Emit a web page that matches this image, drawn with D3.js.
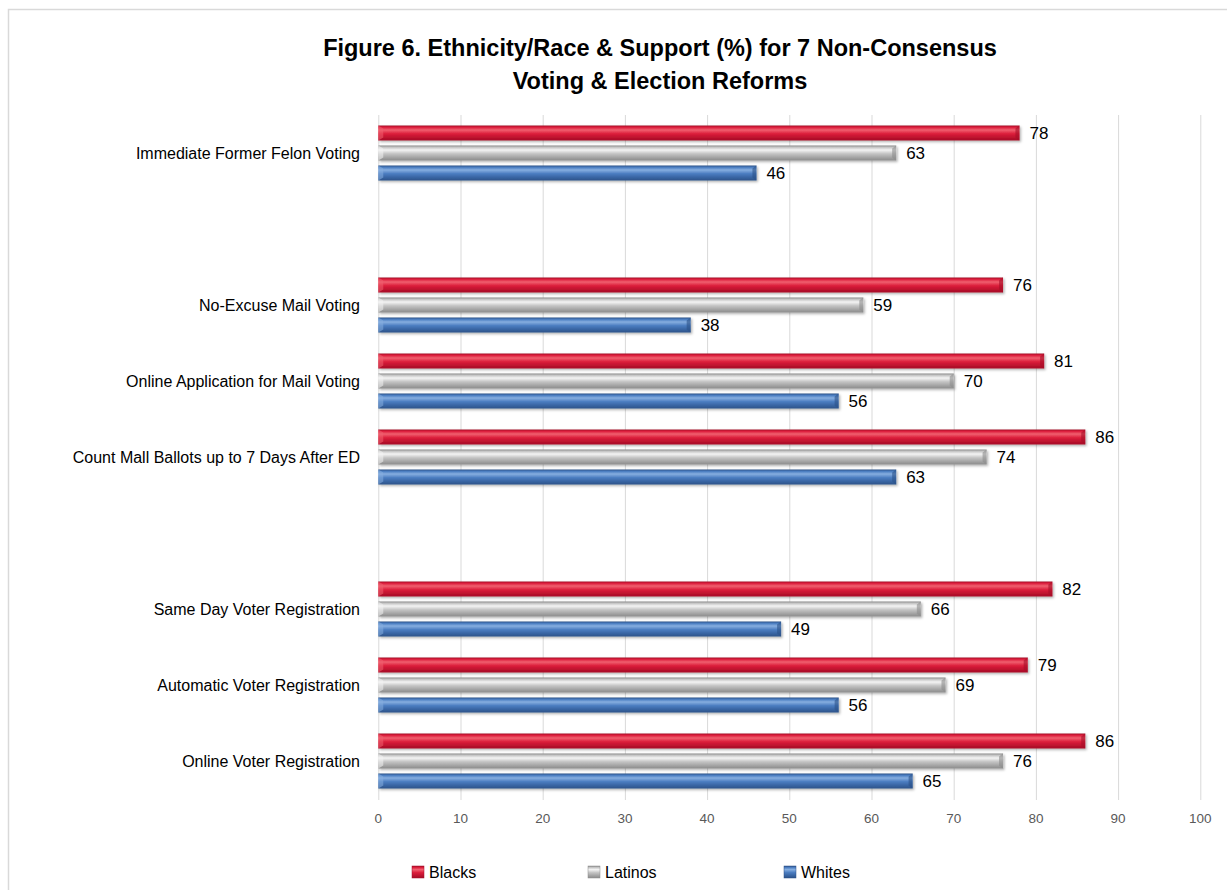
<!DOCTYPE html>
<html>
<head>
<meta charset="utf-8">
<script src="https://cdn.jsdelivr.net/npm/d3@7"></script>
<style>
  html, body { margin: 0; padding: 0; background: #fff; }
  svg { display: block; }
  text { font-family: "Liberation Sans", Arial, sans-serif; }
</style>
</head>
<body>
<svg id="chart" width="1227" height="890"></svg>
<script>
// Reform categories, top to bottom; empty strings are spacer rows between groups
const categories = [
  "Immediate Former Felon Voting",
  "",
  "No-Excuse Mail Voting",
  "Online Application for Mail Voting",
  "Count Mall Ballots up to 7 Days After ED",
  "",
  "Same Day Voter Registration",
  "Automatic Voter Registration",
  "Online Voter Registration"
];
const seriesNames = ["Blacks", "Latinos", "Whites"];
const blacks  = [78, null, 76, 81, 86, null, 82, 79, 86];
const latinos = [63, null, 59, 70, 74, null, 66, 69, 76];
const whites  = [46, null, 38, 56, 63, null, 49, 56, 65];
const xTicks = [0, 10, 20, 30, 40, 50, 60, 70, 80, 90, 100];

const seriesValues = [blacks, latinos, whites];

const svg = d3.select("#chart");
const W = 1227, H = 890;

svg.append("rect").attr("width", W).attr("height", H).attr("fill", "#fff");
svg.append("rect")
  .attr("x", 8.5).attr("y", 9.5).attr("width", W + 10).attr("height", H + 10)
  .attr("fill", "none").attr("stroke", "#d9d9d9").attr("stroke-width", 1.5);

// gradients for the bevelled bar look
const defs = svg.append("defs");
const palettes = {
  Blacks:  { edge: "#a50f28", hi: "#f0606f", mid: "#dc1d3b", low: "#b3102b" },
  Latinos: { edge: "#8c8c8c", hi: "#f4f4f4", mid: "#c4c4c4", low: "#9a9a9a" },
  Whites:  { edge: "#2c5288", hi: "#86aee0", mid: "#4a7cc0", low: "#335d98" }
};
seriesNames.forEach((s, i) => {
  const p = palettes[s];
  const g = defs.append("linearGradient").attr("id", "grad" + i)
    .attr("x1", 0).attr("y1", 0).attr("x2", 0).attr("y2", 1);
  g.append("stop").attr("offset", "0%").attr("stop-color", p.edge);
  g.append("stop").attr("offset", "12%").attr("stop-color", p.mid);
  g.append("stop").attr("offset", "30%").attr("stop-color", p.hi);
  g.append("stop").attr("offset", "55%").attr("stop-color", p.mid);
  g.append("stop").attr("offset", "88%").attr("stop-color", p.low);
  g.append("stop").attr("offset", "100%").attr("stop-color", p.edge);
});
const shadow = defs.append("filter").attr("id", "shadow")
  .attr("x", "-5%").attr("y", "-30%").attr("width", "110%").attr("height", "180%");
shadow.append("feDropShadow").attr("dx", 1.5).attr("dy", 1.5).attr("stdDeviation", 1)
  .attr("flood-color", "#000").attr("flood-opacity", 0.3);

const x = d3.scaleLinear().domain([0, 100]).range([378.3, 1200.3]);
const y = d3.scaleBand().domain(d3.range(categories.length)).range([115, 799]);
const inner = d3.scaleBand().domain(seriesNames).range([0, 60]);
const barH = 15;

// title
const title = svg.append("text").attr("text-anchor", "middle")
  .attr("font-weight", "bold").attr("font-size", 23.5).attr("fill", "#000");
title.append("tspan").attr("x", 660).attr("y", 56)
  .text("Figure 6. Ethnicity/Race & Support (%) for 7 Non-Consensus");
title.append("tspan").attr("x", 660).attr("y", 89)
  .text("Voting & Election Reforms");

// vertical gridlines
svg.append("g").selectAll("line").data(xTicks).join("line")
  .attr("x1", d => x(d) + 0.5).attr("x2", d => x(d) + 0.5)
  .attr("y1", 115).attr("y2", 800)
  .attr("stroke", "#d9d9d9").attr("stroke-width", 1);

// x axis tick labels
svg.append("g").selectAll("text").data(xTicks).join("text")
  .attr("x", d => x(d)).attr("y", 823)
  .attr("text-anchor", "middle").attr("font-size", 13.5).attr("fill", "#595959")
  .text(d => d);

// category labels
svg.append("g").selectAll("text")
  .data(categories.map((c, i) => ({ c, i })).filter(d => d.c))
  .join("text")
  .attr("x", 360).attr("y", d => y(d.i) + y.bandwidth() / 2)
  .attr("dy", "0.35em").attr("text-anchor", "end")
  .attr("font-size", 16).attr("fill", "#000")
  .text(d => d.c);

// bars
const barData = [];
seriesNames.forEach((s, si) => {
  seriesValues[si].forEach((v, ci) => {
    if (v != null) barData.push({ s, si, ci, v });
  });
});
const barTop = d => y(d.ci) + y.bandwidth() / 2 - 30 + inner(d.s) + (inner.bandwidth() - barH) / 2;

const bars = svg.append("g");
bars.selectAll("rect").data(barData).join("rect")
  .attr("x", x(0)).attr("y", barTop)
  .attr("width", d => x(d.v) - x(0)).attr("height", barH)
  .attr("fill", d => `url(#grad${d.si})`)
  .attr("filter", "url(#shadow)");

// bevelled ends
bars.selectAll("path.endL").data(barData).join("path").attr("class", "endL")
  .attr("d", d => {
    const t = barTop(d), x0 = x(0);
    return `M${x0},${t} L${x0 + 5},${t + 3} L${x0 + 5},${t + barH - 3} L${x0},${t + barH} Z`;
  })
  .attr("fill", d => palettes[d.s].hi).attr("opacity", 0.55);
bars.selectAll("path.endR").data(barData).join("path").attr("class", "endR")
  .attr("d", d => {
    const t = barTop(d), x1 = x(d.v);
    return `M${x1},${t} L${x1 - 4},${t + 3} L${x1 - 4},${t + barH - 3} L${x1},${t + barH} Z`;
  })
  .attr("fill", d => palettes[d.s].edge).attr("opacity", 0.6);

// value labels
svg.append("g").selectAll("text").data(barData).join("text")
  .attr("x", d => x(d.v) + 10).attr("y", d => barTop(d) + barH / 2)
  .attr("dy", "0.35em").attr("font-size", 17).attr("fill", "#000")
  .text(d => d.v);

// legend
const legendX = [412, 588, 784];
const legend = svg.append("g").selectAll("g").data(seriesNames).join("g")
  .attr("transform", (d, i) => `translate(${legendX[i]},866)`);
legend.append("rect").attr("width", 12).attr("height", 12)
  .attr("fill", (d, i) => `url(#grad${i})`)
  .attr("stroke", d => palettes[d].edge).attr("stroke-width", 0.5);
legend.append("text").attr("x", 17).attr("y", 6).attr("dy", "0.35em")
  .attr("font-size", 16).attr("fill", "#000").text(d => d);
</script>
</body>
</html>
